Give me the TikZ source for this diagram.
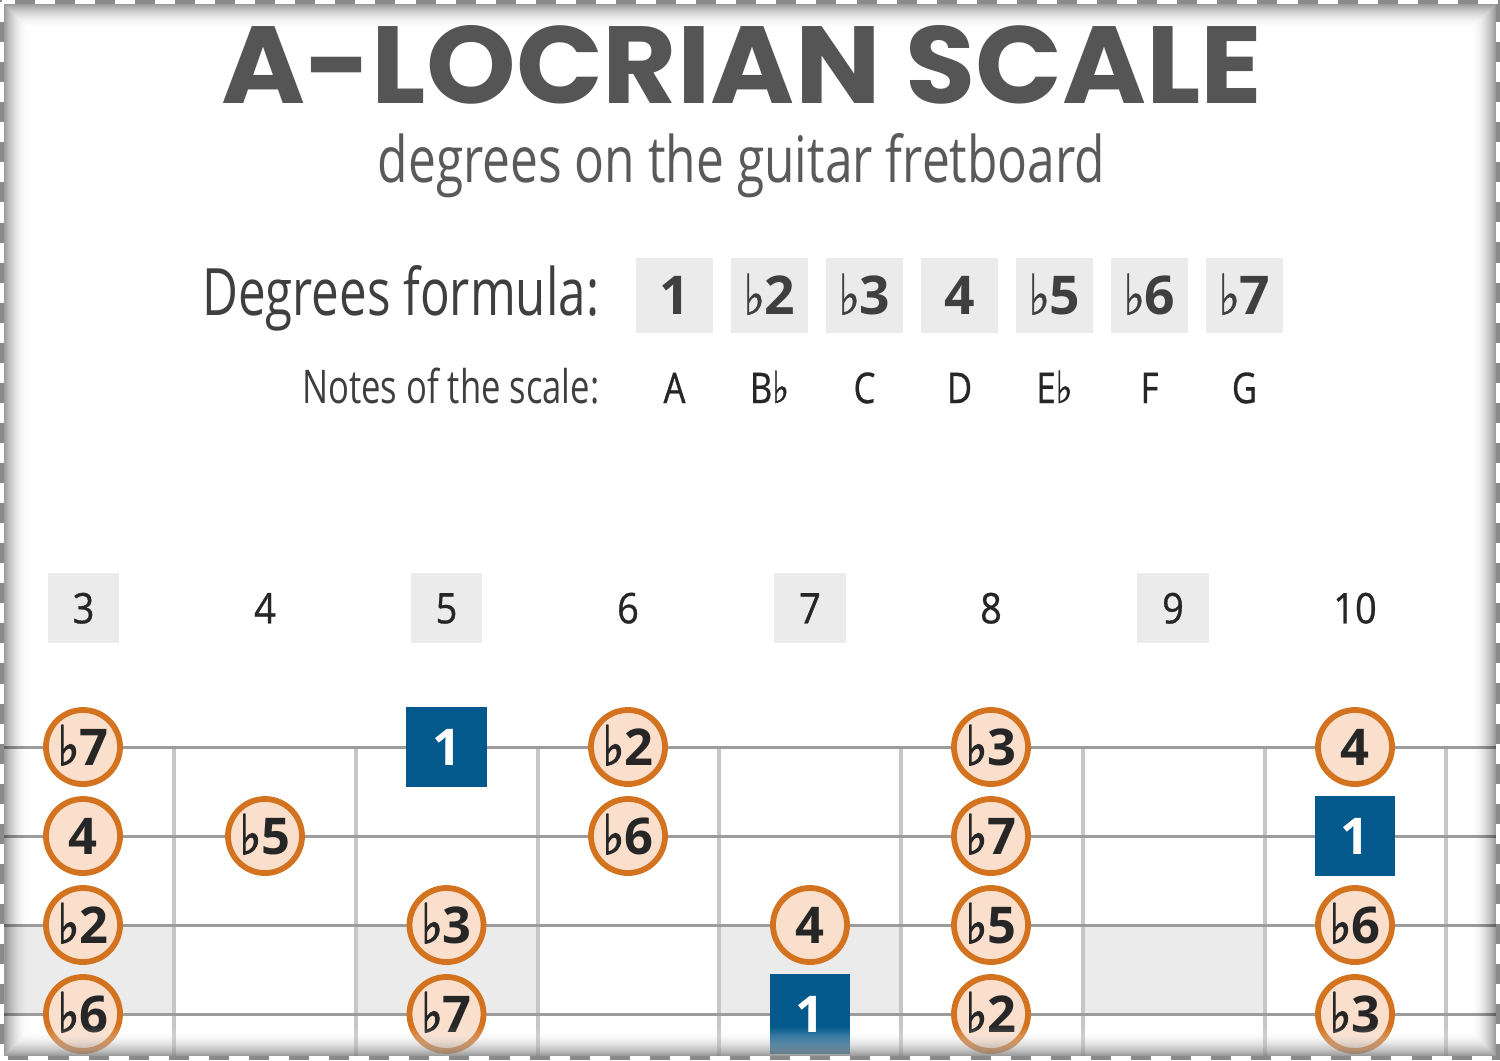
\documentclass[tikz,border=0pt]{standalone}
\usepackage{fontspec}
\usepackage{graphicx}
\usetikzlibrary{fadings}
\newfontfamily\titlefont{Poppins}
\newfontfamily\osans{Open Sans}
\newfontfamily\ocond{Open Sans}[FakeStretch=0.82, FakeBold=0.8]
\newfontfamily\fretf{Open Sans}[FakeStretch=0.9, FakeBold=0.8]
\newfontfamily\flatf{DejaVu Sans}[FakeBold=1.0]
\newfontfamily\flatfb{DejaVu Sans}[FakeBold=2.6]
\newcommand\fl{{\flatf\scalebox{0.85}[1.05]{♭}}}
\newcommand\flb{{\flatfb\scalebox{0.9}[1.08]{♭}}}
\definecolor{titlec}{HTML}{555555}
\definecolor{subc}{HTML}{5A5A5A}
\definecolor{labc}{HTML}{3F3F3F}
\definecolor{txtc}{HTML}{262626}
\definecolor{boxc}{HTML}{EBEBEB}
\definecolor{stringc}{HTML}{9C9C9C}
\definecolor{fretc}{HTML}{C6C6C6}
\definecolor{ringc}{HTML}{D3721F}
\definecolor{ringfill}{HTML}{FADFCC}
\definecolor{bluec}{HTML}{03588C}
\definecolor{edgec}{HTML}{8A8A8A}
\newcommand\degfont{\fontsize{14.4}{16}\osans\bfseries}
\newcommand\formfont{\fontsize{15.2}{18}\osans\bfseries}
\newcommand\fretfont{\fontsize{12}{14}\fretf}
\newcommand\notefont{\fontsize{12}{14}\ocond}
\tikzset{
  deg/.style={circle, draw=ringc, fill=ringfill, line width=1.65pt, minimum size=0.74cm, inner sep=0pt,
    font=\degfont, text=txtc, text height=10.3pt, text depth=0pt},
  rootbox/.style={rectangle, fill=bluec, minimum size=0.8cm, inner sep=0pt,
    font=\degfont, text=white, text height=10.3pt, text depth=0pt},
  formbox/.style={rectangle, fill=boxc, minimum width=0.77cm, minimum height=0.75cm, inner sep=0pt,
    font=\formfont, text=labc, text height=10.9pt, text depth=0pt},
  fretbox/.style={rectangle, fill=boxc, minimum width=0.71cm, minimum height=0.70cm, inner sep=0pt,
    font=\fretfont, text=txtc, text height=8.7pt, text depth=0pt},
  fretplain/.style={fretbox, fill=none},
  notelab/.style={anchor=base, inner sep=0pt, font=\notefont, text=txtc},
  stringline/.style={draw=stringc, line width=0.85pt},
  fretline/.style={draw=fretc, line width=1.1pt},
}
\begin{document}
\begin{tikzpicture}[x=0.01cm, y=-0.01cm]
\useasboundingbox (0,0) rectangle (1500,1060);
\fill[white] (0,0) rectangle (1500,1060);

% ---------- title block ----------
\node[anchor=base, inner sep=0pt, text=titlec] (title) at (742,103)
  {\resizebox{10.4cm}{0.78cm}{\titlefont\bfseries A-LOCRIAN SCALE}};
\node[anchor=base, inner sep=0pt, text=subc] (subtitle) at (741.5,182)
  {\resizebox{7.27cm}{0.49cm}{\osans degrees on the guitar fretboard}};
\node[anchor=base east, inner sep=0pt, text=labc] (formlabel) at (600,315)
  {\resizebox{3.97cm}{0.50cm}{\osans Degrees formula:}};
\node[anchor=base east, inner sep=0pt, text=labc] (notelabel) at (600,403)
  {\resizebox{2.97cm}{0.355cm}{\osans Notes of the scale:}};

% formula boxes
\node[formbox] (d1) at (674.5,295.5) {1};
\node[formbox] (d2) at (769.5,295.5) {\fl2};
\node[formbox] (d3) at (864.5,295.5) {\fl3};
\node[formbox] (d4) at (959.5,295.5) {4};
\node[formbox] (d5) at (1054.5,295.5) {\fl5};
\node[formbox] (d6) at (1149.5,295.5) {\fl6};
\node[formbox] (d7) at (1244.5,295.5) {\fl7};

% notes
\node[notelab] (n1) at (674.5,403) {A};
\node[notelab] (n2) at (769.5,403) {B\fl};
\node[notelab] (n3) at (864.5,403) {C};
\node[notelab] (n4) at (959.5,403) {D};
\node[notelab] (n5) at (1054.5,403) {E\fl};
\node[notelab] (n6) at (1149.5,403) {F};
\node[notelab] (n7) at (1244.5,403) {G};

% ---------- fret numbers ----------
\node[fretbox]   (fn3)  at (83.5,608) {3};
\node[fretplain] (fn4)  at (265,608) {4};
\node[fretbox]   (fn5)  at (446.5,608) {5};
\node[fretplain] (fn6)  at (628,608) {6};
\node[fretbox]   (fn7)  at (810,608) {7};
\node[fretplain] (fn8)  at (991,608) {8};
\node[fretbox]   (fn9)  at (1173,608) {9};
\node[fretplain] (fn10) at (1355,608) {10};

% ---------- fretboard ----------
% inlay shading
\fill[boxc] (5,925) rectangle (174,1014);
\fill[boxc] (356,925) rectangle (538,1014);
\fill[boxc] (719,925) rectangle (901,1014);
\fill[boxc] (1083,925) rectangle (1265,1014);
% fret wires
\foreach \fx in {174,356,538,719,901,1083,1265,1446}
  \draw[fretline] (\fx,747) -- (\fx,1060);
% strings
\foreach \sy in {747,836,925,1014}
  \draw[stringline] (4,\sy) -- (1496,\sy);

% string 1
\node[deg]     (a3)  at (83,747)   {\flb7};
\node[rootbox] (a5)  at (446.5,747) {1};
\node[deg]     (a6)  at (628,747)  {\flb2};
\node[deg]     (a8)  at (991,747)  {\flb3};
\node[deg]     (a10) at (1355,747) {4};
% string 2
\node[deg]     (b3)  at (83,836)   {4};
\node[deg]     (b4)  at (265,836)  {\flb5};
\node[deg]     (b6)  at (628,836)  {\flb6};
\node[deg]     (b8)  at (991,836)  {\flb7};
\node[rootbox] (b10) at (1355,836) {1};
% string 3
\node[deg]     (c3)  at (83,925)   {\flb2};
\node[deg]     (c5)  at (446.5,925) {\flb3};
\node[deg]     (c7)  at (810,925)  {4};
\node[deg]     (c8)  at (991,925)  {\flb5};
\node[deg]     (c10) at (1355,925) {\flb6};
% string 4
\node[deg]     (e3)  at (83,1014)  {\flb6};
\node[deg]     (e5)  at (446.5,1014) {\flb7};
\node[rootbox] (e7)  at (810,1014) {1};
\node[deg]     (e8)  at (991,1014) {\flb2};
\node[deg]     (e10) at (1355,1014) {\flb3};

% ---------- bottom fade ----------
\fill[white, opacity=0.7, path fading=north] (3,1026) rectangle (1497,1058);

% ---------- inner shadow ----------
\foreach \i [evaluate=\i as \op using {0.42*(1-\i/26)^2}] in {0,...,25}
  \draw[black, opacity=\op, line width=0.31pt] (3.5+\i,3.5+\i) rectangle (1496.5-\i,1056.5-\i);

% ---------- dashed frame ----------
\draw[edgec, line width=1.1pt] (2,2) rectangle (1498,1058);
\draw[white, line width=1.1pt, dash pattern=on 5.7pt off 5.7pt] (2,2) rectangle (1498,1058);
\end{tikzpicture}
\end{document}
